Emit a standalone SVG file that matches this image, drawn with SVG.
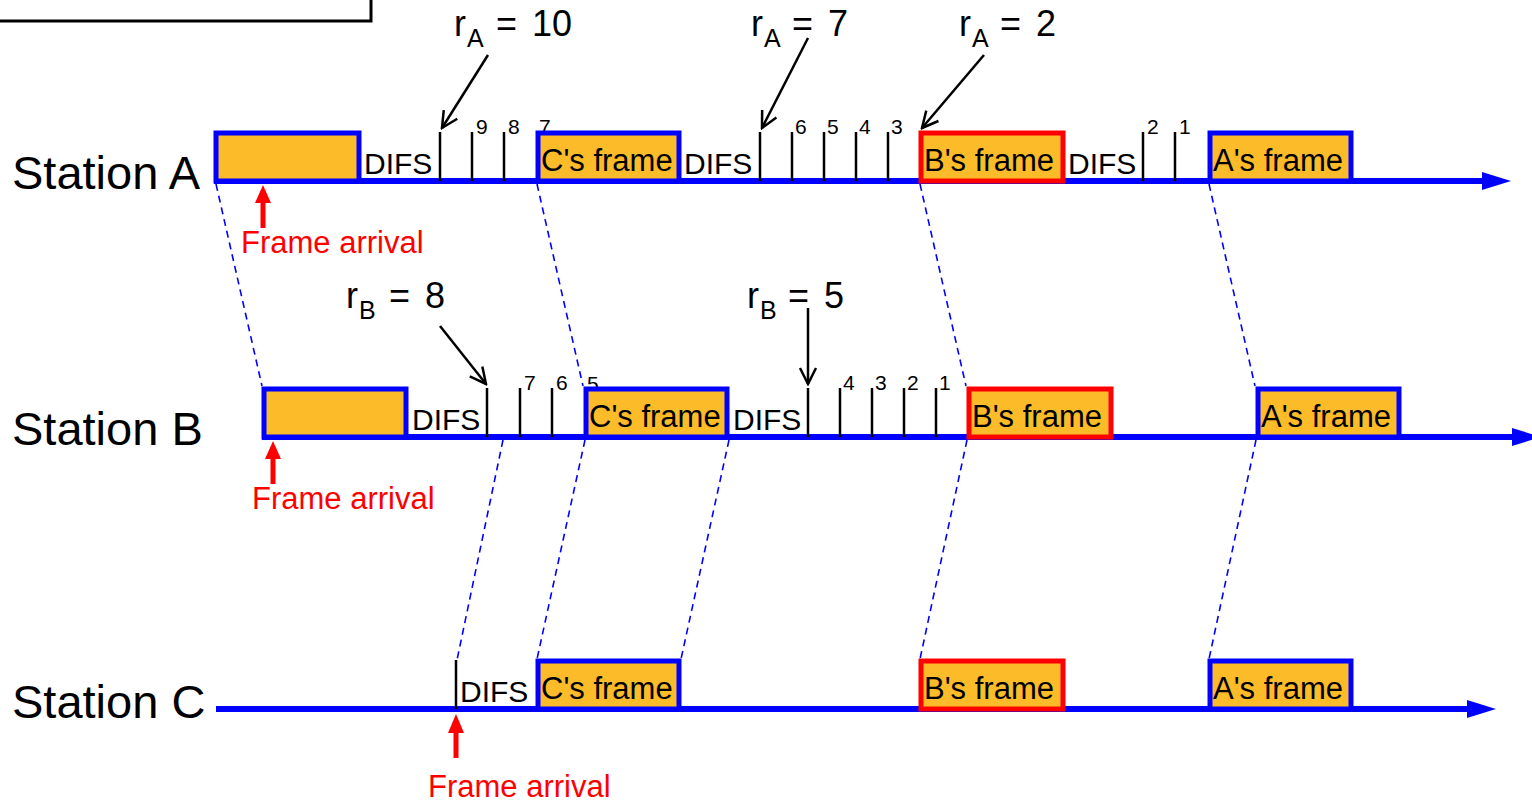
<svg xmlns="http://www.w3.org/2000/svg" width="1532" height="804" viewBox="0 0 1532 804">
<style>
text{font-family:"Liberation Sans",Arial,sans-serif;fill:#000}
.st{font-size:47px}
.lbl{font-size:31px}
.difs{font-size:30px}
.num{font-size:21px}
.r{font-size:36px}
.sub{font-size:25px}
.red{fill:#FF0000;font-size:31px}
.fb{fill:#FCBB29;stroke:#0000FF;stroke-width:5}
.fr{fill:#FCBB29;stroke:#FF0000;stroke-width:5}
.tl{stroke:#0000FF;stroke-width:6;fill:none}
.tk{stroke:#000;stroke-width:2.5}
.dash{stroke:#0000FF;stroke-width:1.6;stroke-dasharray:7 5;fill:none}
.ar{stroke:#000;stroke-width:2.5;fill:none;marker-end:url(#open)}
</style>
<defs>
<marker id="open" viewBox="0 0 20 20" refX="18" refY="10" markerWidth="20" markerHeight="20" markerUnits="userSpaceOnUse" orient="auto">
<path d="M2,2 L18,10 L2,18" fill="none" stroke="#000" stroke-width="2.5"/>
</marker>
</defs>
<rect x="-10" y="-10" width="381" height="31" fill="#fff" stroke="#000" stroke-width="3"/>

<g id="connectors">
<line class="dash" x1="216" y1="184" x2="262" y2="386"/>
<line class="dash" x1="537" y1="184" x2="583" y2="386"/>
<line class="dash" x1="920" y1="184" x2="966" y2="386"/>
<line class="dash" x1="1209" y1="184" x2="1255" y2="386"/>
<line class="dash" x1="503" y1="440" x2="457" y2="660"/>
<line class="dash" x1="585" y1="440" x2="537" y2="659"/>
<line class="dash" x1="729" y1="440" x2="681" y2="659"/>
<line class="dash" x1="967" y1="440" x2="920" y2="659"/>
<line class="dash" x1="1256" y1="440" x2="1209" y2="659"/>
<line class="ar" x1="488" y1="55" x2="442" y2="128"/>
<line class="ar" x1="808" y1="38" x2="762" y2="128"/>
<line class="ar" x1="984" y1="55" x2="922" y2="128"/>
<line class="ar" x1="440" y1="326" x2="486" y2="384"/>
<line class="ar" x1="808" y1="308" x2="808" y2="384"/>
</g>

<g id="stationA">
<text class="st" x="12" y="189">Station A</text>
<line class="tl" x1="214" y1="181" x2="1486" y2="181"/>
<polygon points="1482,172 1511,181 1482,190" fill="#0000FF"/>
<rect class="fb" x="216" y="133" width="143" height="48"/>
<text class="difs" x="364" y="174">DIFS</text>
<line class="tk" x1="440" y1="132" x2="440" y2="181"/>
<line class="tk" x1="472" y1="132" x2="472" y2="181"/>
<line class="tk" x1="504" y1="132" x2="504" y2="181"/>
<text class="num" x="476" y="134">9</text>
<text class="num" x="508" y="134">8</text>
<text class="num" x="539" y="134">7</text>
<rect class="fb" x="538" y="133" width="141" height="48"/>
<text class="lbl" x="541" y="171">C's frame</text>
<text class="difs" x="684" y="174">DIFS</text>
<line class="tk" x1="760" y1="132" x2="760" y2="181"/>
<line class="tk" x1="792" y1="132" x2="792" y2="181"/>
<line class="tk" x1="824" y1="132" x2="824" y2="181"/>
<line class="tk" x1="856" y1="132" x2="856" y2="181"/>
<line class="tk" x1="888" y1="132" x2="888" y2="181"/>
<text class="num" x="795" y="134">6</text>
<text class="num" x="827" y="134">5</text>
<text class="num" x="859" y="134">4</text>
<text class="num" x="891" y="134">3</text>
<rect class="fr" x="921" y="133" width="142" height="48"/>
<text class="lbl" x="924" y="171">B's frame</text>
<text class="difs" x="1068" y="174">DIFS</text>
<line class="tk" x1="1143" y1="132" x2="1143" y2="181"/>
<line class="tk" x1="1175" y1="132" x2="1175" y2="181"/>
<text class="num" x="1147" y="134">2</text>
<text class="num" x="1179" y="134">1</text>
<rect class="fb" x="1210" y="133" width="141" height="48"/>
<text class="lbl" x="1213" y="171">A's frame</text>
<text class="r" x="454" y="36">r</text><text class="sub" x="467" y="47">A</text><text class="r" x="496" y="36">=</text><text class="r" x="532" y="36">10</text>
<text class="r" x="751" y="36">r</text><text class="sub" x="764" y="47">A</text><text class="r" x="792" y="36">=</text><text class="r" x="828" y="36">7</text>
<text class="r" x="959" y="36">r</text><text class="sub" x="972" y="47">A</text><text class="r" x="1000" y="36">=</text><text class="r" x="1036" y="36">2</text>
<line x1="263" y1="228" x2="263" y2="202" stroke="#FF0000" stroke-width="5"/>
<polygon points="263,185 255,203 271,203" fill="#FF0000"/>
<text class="red" x="241" y="253">Frame arrival</text>
</g>

<g id="stationB">
<text class="st" x="12" y="445">Station B</text>
<line class="tl" x1="262" y1="437" x2="1516" y2="437"/>
<polygon points="1512,428 1541,437 1512,446" fill="#0000FF"/>
<rect class="fb" x="264" y="389" width="142" height="48"/>
<text class="difs" x="412" y="430">DIFS</text>
<line class="tk" x1="487" y1="388" x2="487" y2="437"/>
<line class="tk" x1="520" y1="388" x2="520" y2="437"/>
<line class="tk" x1="552" y1="388" x2="552" y2="437"/>
<text class="num" x="524" y="390">7</text>
<text class="num" x="556" y="390">6</text>
<text class="num" x="587" y="391">5</text>
<rect class="fb" x="586" y="389" width="141" height="48"/>
<text class="lbl" x="589" y="427">C's frame</text>
<text class="difs" x="733" y="430">DIFS</text>
<line class="tk" x1="808" y1="388" x2="808" y2="437"/>
<line class="tk" x1="840" y1="388" x2="840" y2="437"/>
<line class="tk" x1="872" y1="388" x2="872" y2="437"/>
<line class="tk" x1="904" y1="388" x2="904" y2="437"/>
<line class="tk" x1="936" y1="388" x2="936" y2="437"/>
<text class="num" x="843" y="390">4</text>
<text class="num" x="875" y="390">3</text>
<text class="num" x="907" y="390">2</text>
<text class="num" x="939" y="390">1</text>
<rect class="fr" x="969" y="389" width="142" height="48"/>
<text class="lbl" x="972" y="427">B's frame</text>
<rect class="fb" x="1258" y="389" width="141" height="48"/>
<text class="lbl" x="1261" y="427">A's frame</text>
<text class="r" x="346" y="308">r</text><text class="sub" x="359" y="319">B</text><text class="r" x="389" y="308">=</text><text class="r" x="425" y="308">8</text>
<text class="r" x="747" y="308">r</text><text class="sub" x="760" y="319">B</text><text class="r" x="788" y="308">=</text><text class="r" x="824" y="308">5</text>
<line x1="273" y1="484" x2="273" y2="458" stroke="#FF0000" stroke-width="5"/>
<polygon points="273,441 265,459 281,459" fill="#FF0000"/>
<text class="red" x="252" y="509">Frame arrival</text>
</g>

<g id="stationC">
<text class="st" x="12" y="718">Station C</text>
<line class="tl" x1="216" y1="709" x2="1470" y2="709"/>
<polygon points="1467,700 1496,709 1467,718" fill="#0000FF"/>
<line class="tk" x1="456" y1="660" x2="456" y2="709"/>
<text class="difs" x="460" y="702">DIFS</text>
<rect class="fb" x="538" y="661" width="141" height="48"/>
<text class="lbl" x="541" y="699">C's frame</text>
<rect class="fr" x="921" y="661" width="142" height="48"/>
<text class="lbl" x="924" y="699">B's frame</text>
<rect class="fb" x="1210" y="661" width="141" height="48"/>
<text class="lbl" x="1213" y="699">A's frame</text>
<line x1="456" y1="758" x2="456" y2="732" stroke="#FF0000" stroke-width="5"/>
<polygon points="456,714 448,733 464,733" fill="#FF0000"/>
<text class="red" x="428" y="797">Frame arrival</text>
</g>
</svg>
